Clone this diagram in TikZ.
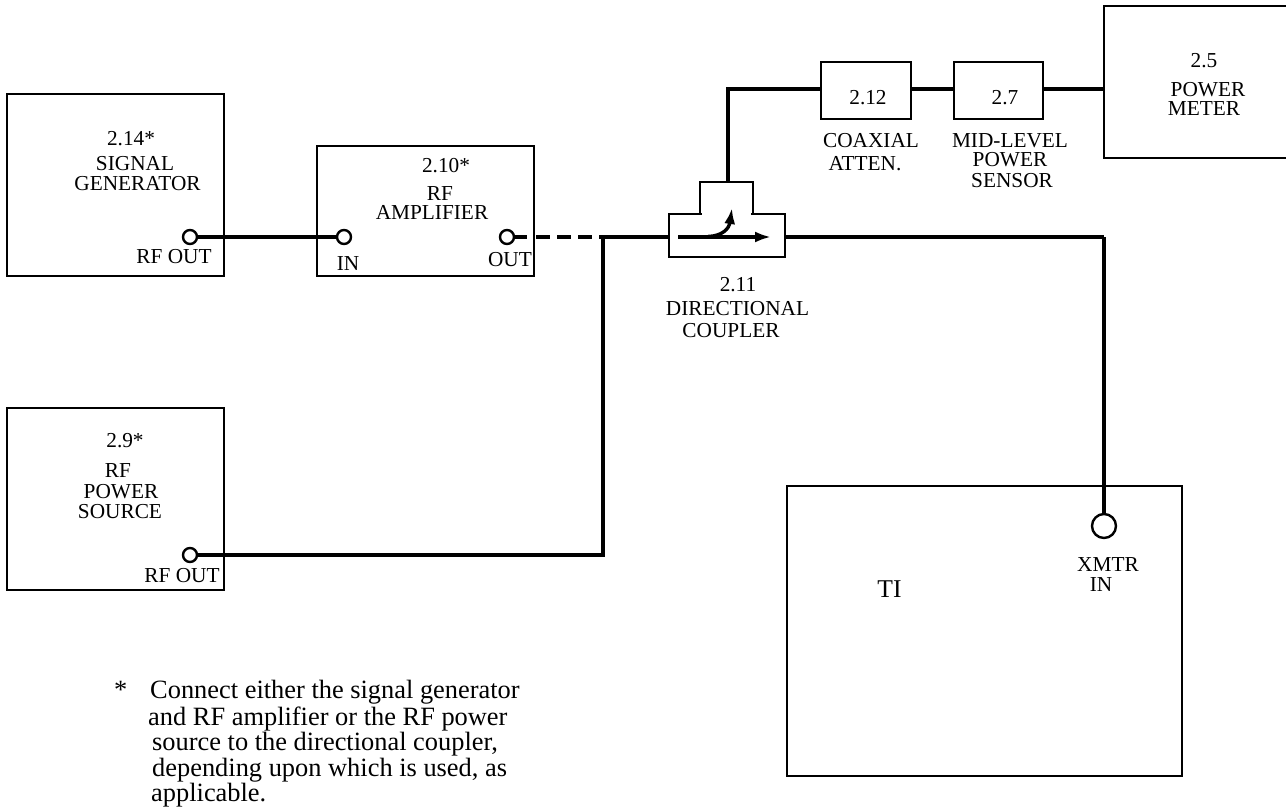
\documentclass[tikz,border=0pt]{standalone}
\usepackage{fontspec}
\setmainfont{Liberation Serif}
\usetikzlibrary{arrows.meta}
\tikzset{
 x=1pt,y=-1pt,
 blockbox/.style={draw=black,line width=2.4pt,inner sep=0pt},
 wire/.style={draw=black,line width=3.8pt},
 port/.style={draw=black,line width=2.4pt,circle,fill=white,inner sep=0pt,minimum size=14pt},
 lbl/.style={font=\fontsize{21.3}{21.3}\selectfont,inner sep=0pt,text=black,anchor=base},
 big/.style={font=\fontsize{25.6}{25.6}\selectfont,inner sep=0pt,text=black,anchor=base},
 note/.style={font=\fontsize{26.4}{26.4}\selectfont,inner sep=0pt,text=black,anchor=base west},
}
\begin{document}
\begin{tikzpicture}
\useasboundingbox (0,0) rectangle (1286,808);
% boxes
\node[blockbox,minimum width=217pt,minimum height=182pt] (sig) at (115.5,185) {};
\node[blockbox,minimum width=217pt,minimum height=130pt] (amp) at (425.5,211) {};
\node[blockbox,minimum width=217pt,minimum height=182pt] (src) at (115.5,499) {};
\node[blockbox,minimum width=395pt,minimum height=290pt] (ti) at (984.5,631) {};
\node[blockbox,minimum width=190pt,minimum height=152pt] (pm) at (1199,82) {};
\node[blockbox,minimum width=90pt,minimum height=57pt] (att) at (866,90.5) {};
\node[blockbox,minimum width=89pt,minimum height=57pt] (sen) at (998.5,90.5) {};
\node[blockbox,minimum width=53pt,minimum height=32pt] (cupper) at (726.5,198) {};
\node[blockbox,minimum width=116pt,minimum height=43pt] (cmain) at (727,235.5) {};
\path[draw=white,line width=3.2pt] (702,214) -- (751,214);
% junction points
\coordinate (j) at (603,237);
\coordinate (c1) at (728,89);
\coordinate (c2) at (1104,237);
\coordinate (ampout) at (527,237);
\coordinate (ampedge) at (536,237);
% ports
\node[port] (p1) at (190,237) {};
\node[port] (p2) at (344,237) {};
\node[port] (p3) at (507,237) {};
\node[port] (p4) at (190,555) {};
\node[port,minimum size=24pt] (p5) at (1104,526) {};
% wires
\draw[wire] (p1) -- (p2);
\draw[wire] (p3) -- (ampout);
\draw[wire,dash pattern=on 14pt off 7pt] (ampedge) -- (j);
\draw[wire] (j) -- (cmain.west |- j);
\draw[wire] (p4) -| (j);
\draw[wire] (cupper.north -| c1) -- (c1) -- (att.west |- c1);
\draw[wire] (att.east |- c1) -- (sen.west |- c1);
\draw[wire] (sen.east |- c1) -- (pm.west |- c1);
\draw[wire] (cmain.east |- c2) -- (c2);
\draw[wire,line width=4.6pt,line cap=square] (c2) -- (p5.north);
% coupler arrows
\coordinate (a1) at (678,237);
\coordinate (a2) at (771,237);
\coordinate (a3) at (732,208);
\coordinate (a4) at (708,236.5);
\draw[line width=3.6pt,-{Latex[length=16pt,width=11pt]}] (a1) -- (a2);
\draw[line width=3.4pt,-{Latex[length=16pt,width=11pt]}] (a4) .. controls (722,236) and (729,229) .. (a3);
% labels
\node[lbl] (t1) at (131,145) {2.14*};
\node[lbl] (t2) at (135,170) {SIGNAL};
\node[lbl] (t3) at (137.5,190) {GENERATOR};
\node[lbl] (t4) at (174,263) {RF OUT};
\node[lbl] (t5) at (446,172) {2.10*};
\node[lbl] (t6) at (440,200) {RF};
\node[lbl] (t7) at (432,219) {AMPLIFIER};
\node[lbl] (t8) at (348,270) {IN};
\node[lbl] (t9) at (510,266) {OUT};
\node[lbl] (t10) at (125,447) {2.9*};
\node[lbl] (t11) at (118,477) {RF};
\node[lbl] (t12) at (121,498) {POWER};
\node[lbl] (t13) at (120,518) {SOURCE};
\node[lbl] (t14) at (182,582) {RF OUT};
\node[big] (t15) at (889.5,597) {TI};
\node[lbl] (t16) at (1108,571) {XMTR};
\node[lbl] (t17) at (1101,591) {IN};
\node[lbl] (t18) at (868,104) {2.12};
\node[lbl] (t19) at (1005,104) {2.7};
\node[lbl] (t20) at (871,147) {COAXIAL};
\node[lbl] (t21) at (865,170) {ATTEN.};
\node[lbl] (t22) at (1010,147) {MID-LEVEL};
\node[lbl] (t23) at (1010,166) {POWER};
\node[lbl] (t24) at (1012,187) {SENSOR};
\node[lbl] (t25) at (1204,68) {2.5};
\node[lbl] (t26) at (1208,96) {POWER};
\node[lbl] (t27) at (1204,115) {METER};
\node[lbl] (t28) at (738,291) {2.11};
\node[lbl] (t29) at (737.5,315) {DIRECTIONAL};
\node[lbl] (t30) at (731,337) {COUPLER};
\node[note] (n0) at (114,698) {*};
\node[note] (n1) at (150,698) {Connect either the signal generator};
\node[note] (n2) at (148,725) {and RF amplifier or the RF power};
\node[note] (n3) at (152,750) {source to the directional coupler,};
\node[note] (n4) at (152,776) {depending upon which is used, as};
\node[note] (n5) at (151,801) {applicable.};
\end{tikzpicture}
\end{document}
